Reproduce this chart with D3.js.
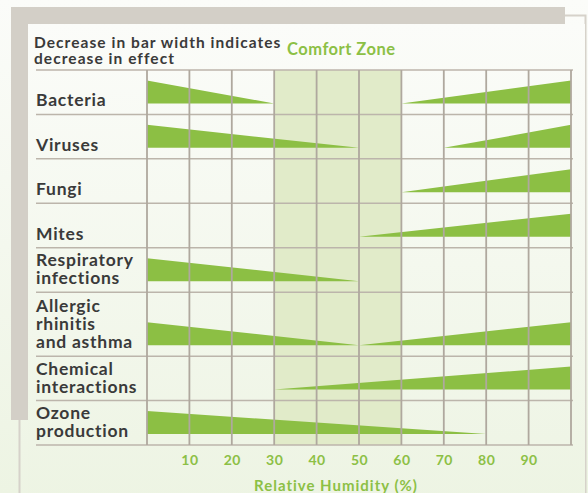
<!DOCTYPE html>
<html>
<head>
<meta charset="utf-8">
<script src="https://cdn.jsdelivr.net/npm/d3@7"></script>
<style>
  html, body { margin: 0; padding: 0; background: #f4f8ef; }
  svg { display: block; }
  text { font-family: Lato, "Open Sans", sans-serif; font-weight: 700; }
</style>
</head>
<body>
<div id="chart"></div>
<script>
// rows, top to bottom
var categories = ["Bacteria", "Viruses", "Fungi", "Mites", "Respiratory\ninfections",
    "Allergic\nrhinitis\nand asthma", "Chemical\ninteractions", "Ozone\nproduction"];
// left wedge: full effect at 0% RH, shrinking to nothing at this RH
var decreaseEnd = [30, 50, null, null, 50, 50, null, 80];
// right wedge: nothing at this RH, growing to full effect at 100% RH
var increaseStart = [60, 70, 60, 50, null, 50, 30, null];
var comfortZone = [30, 60];
var tickValues = [10, 20, 30, 40, 50, 60, 70, 80, 90];
var gridValues = [0, 10, 20, 30, 40, 50, 60, 70, 80, 90, 100];

var width = 588, height = 493;
var green = "#8cbf44", gridColor = "#afa89e", textColor = "#3a3a3a";

var svg = d3.select("#chart").append("svg")
    .attr("width", width)
    .attr("height", height);

var defs = svg.append("defs");
var grad = defs.append("linearGradient").attr("id", "bg")
    .attr("x1", 0).attr("y1", 0).attr("x2", 0).attr("y2", 1);
grad.append("stop").attr("offset", "0%").attr("stop-color", "#fbfcf9");
grad.append("stop").attr("offset", "100%").attr("stop-color", "#edf4e3");

// page + frame
svg.append("rect").attr("width", width).attr("height", height).attr("fill", "url(#bg)");
svg.append("rect").attr("x", 19.5).attr("y", 15.5).attr("width", 566).attr("height", 500)
    .attr("fill", "url(#bg)").attr("stroke", "#d6d2ca").attr("stroke-width", 2);
svg.append("rect").attr("x", 11).attr("y", 7).attr("width", 554).attr("height", 413)
    .attr("fill", "#d3cfc7");
svg.append("rect").attr("x", 28).attr("y", 24).attr("width", 557).attr("height", 480)
    .attr("fill", "url(#bg)");

// scales
var x = d3.scaleLinear().domain([0, 100]).range([147, 571]);

var rowUnits = categories.map(function (c) {
    return c.split("\n").length > 2 ? 1.44 : 1;
});
var rowEdges = [0];
rowUnits.forEach(function (u, i) { rowEdges.push(rowEdges[i] + u); });
var y = d3.scaleLinear().domain([0, rowEdges[rowEdges.length - 1]]).range([70, 445]);
var thick = d3.scaleLinear().domain([0, 1]).range([0, 23]);

function rowBottom(i) { return y(rowEdges[i + 1]); }

// comfort zone
svg.append("rect")
    .attr("x", x(comfortZone[0]))
    .attr("y", y(0))
    .attr("width", x(comfortZone[1]) - x(comfortZone[0]))
    .attr("height", y(rowEdges[rowEdges.length - 1]) - y(0))
    .attr("fill", "#e1ebc9");

svg.append("text")
    .attr("x", 287).attr("y", 55)
    .attr("font-size", 16.5)
    .attr("letter-spacing", 0.5)
    .attr("fill", "#8cc045")
    .text("Comfort Zone");

// wedges
var line = d3.line();
categories.forEach(function (c, i) {
    var base = rowBottom(i) - 11;
    if (decreaseEnd[i] != null) {
        svg.append("path")
            .attr("d", line([[x(0), base], [x(0), base - thick(1)], [x(decreaseEnd[i]), base]]) + "Z")
            .attr("fill", green);
    }
    if (increaseStart[i] != null) {
        svg.append("path")
            .attr("d", line([[x(increaseStart[i]), base], [x(100), base - thick(1)], [x(100), base]]) + "Z")
            .attr("fill", green);
    }
});

// horizontal row lines
svg.selectAll(".hline")
    .data(rowEdges)
    .enter().append("line")
    .attr("x1", 36).attr("x2", 573)
    .attr("y1", function (d) { return y(d); })
    .attr("y2", function (d) { return y(d); })
    .attr("stroke", "#bcb5ab")
    .attr("stroke-width", 1.5);

// vertical grid lines
svg.selectAll(".vline")
    .data(gridValues)
    .enter().append("line")
    .attr("x1", function (d) { return x(d); })
    .attr("x2", function (d) { return x(d); })
    .attr("y1", y(0))
    .attr("y2", y(rowEdges[rowEdges.length - 1]))
    .attr("stroke", gridColor)
    .attr("stroke-width", 1.8);

// row labels
categories.forEach(function (c, i) {
    var lines = c.split("\n");
    var t = svg.append("text")
        .attr("x", 36)
        .attr("font-size", 17.5)
        .attr("letter-spacing", 0.75)
        .attr("fill", textColor);
    lines.forEach(function (l, j) {
        t.append("tspan")
            .attr("x", 36)
            .attr("y", rowBottom(i) - 8 - (lines.length - 1 - j) * 18)
            .text(l);
    });
});

// header note
svg.append("text").attr("x", 34).attr("y", 48).attr("font-size", 15.5)
    .attr("letter-spacing", 1.05).attr("fill", textColor)
    .text("Decrease in bar width indicates");
svg.append("text").attr("x", 34).attr("y", 64).attr("font-size", 15.5)
    .attr("letter-spacing", 1.05).attr("fill", textColor)
    .text("decrease in effect");

// x axis
var xAxis = d3.axisBottom(x).tickValues(tickValues).tickSize(0).tickPadding(0);
var ax = svg.append("g").attr("transform", "translate(0,455)").call(xAxis);
ax.select(".domain").remove();
ax.selectAll("text")
    .attr("dy", "0.71em")
    .attr("font-size", 14)
    .attr("letter-spacing", 0.5)
    .attr("fill", "#8cc045")
    .style("font-family", "Lato, sans-serif")
    .style("font-weight", 700);

svg.append("text")
    .attr("x", 336).attr("y", 491)
    .attr("text-anchor", "middle")
    .attr("font-size", 15)
    .attr("letter-spacing", 1)
    .attr("fill", "#8cc045")
    .text("Relative Humidity (%)");
</script>
</body>
</html>
